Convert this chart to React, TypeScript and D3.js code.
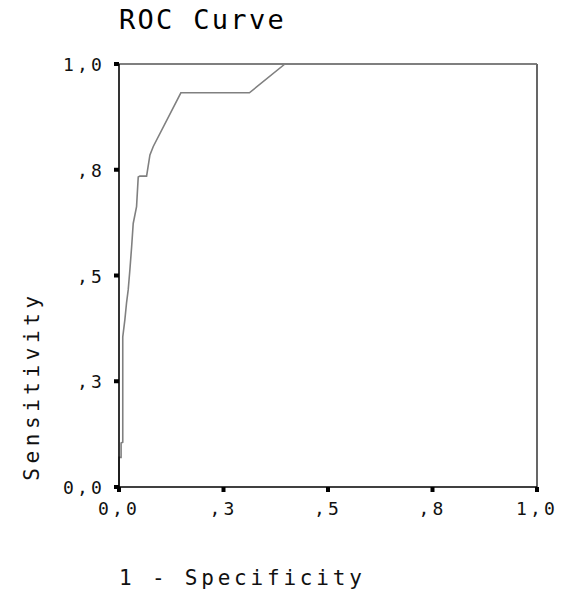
import React from "react";
import * as d3 from "d3";

// ROC points (1 - specificity, sensitivity)
const fpr = [0, 0, 0.005, 0.005, 0.009, 0.009, 0.014, 0.018, 0.022, 0.026, 0.030, 0.034, 0.042, 0.046, 0.05, 0.066, 0.074, 0.082, 0.148, 0.312, 0.397, 1.0];
const tpr = [0, 0.07, 0.07, 0.104, 0.106, 0.355, 0.395, 0.435, 0.466, 0.513, 0.565, 0.623, 0.663, 0.733, 0.735, 0.735, 0.785, 0.805, 0.932, 0.932, 1.0, 1.0];

const tickValues = [0, 0.25, 0.5, 0.75, 1];
const tickLabels = ["0,0", ",3", ",5", ",8", "1,0"];

const W = 565;
const H = 595;
const margin = { top: 64, right: 28, bottom: 108, left: 119 };

const App: React.FC = () => {
  const innerW = W - margin.left - margin.right;
  const innerH = H - margin.top - margin.bottom;

  const x = d3.scaleLinear().domain([0, 1]).range([0, innerW]);
  const y = d3.scaleLinear().domain([0, 1]).range([innerH, 0]);

  const pts: [number, number][] = fpr.map((f, i) => [f, tpr[i]]);
  const line = d3
    .line<[number, number]>()
    .x(d => x(d[0]))
    .y(d => y(d[1]));

  const font = "'DejaVu Sans Mono', 'Liberation Mono', monospace";

  return (
    <svg
      width={W}
      height={H}
      style={{ position: "fixed", left: 0, top: 0, background: "#fff" }}
      fontFamily={font}
    >
      <rect width={W} height={H} fill="#fff" />
      <text x={119} y={29} fontSize={27} letterSpacing={2.3} fill="#000">
        ROC Curve
      </text>

      <g transform={`translate(${margin.left},${margin.top})`}>
        {/* frame */}
        <line x1={0} x2={innerW} y1={0} y2={0} stroke="#000" strokeWidth={1.2} />
        <line x1={innerW} x2={innerW} y1={0} y2={innerH} stroke="#000" strokeWidth={1.2} />

        {/* curve */}
        <path d={line(pts) || ""} fill="none" stroke="#808080" strokeWidth={1.6} />

        {/* axes */}
        <line x1={0} x2={0} y1={0} y2={innerH} stroke="#000" strokeWidth={1.6} />
        <line x1={0} x2={innerW} y1={innerH} y2={innerH} stroke="#000" strokeWidth={1.6} />

        {tickValues.map((v, i) => (
          <g key={"y" + i}>
            <line x1={-5} x2={0} y1={y(v)} y2={y(v)} stroke="#000" strokeWidth={4} />
            <text
              x={-14}
              y={y(v) + 7}
              textAnchor="end"
              fontSize={18}
              letterSpacing={3.2}
              fill="#111"
            >
              {tickLabels[i]}
            </text>
          </g>
        ))}
        {tickValues.map((v, i) => (
          <g key={"x" + i}>
            <line x1={x(v)} x2={x(v)} y1={innerH} y2={innerH + 5} stroke="#000" strokeWidth={4} />
            <text
              x={x(v)}
              y={innerH + 28}
              textAnchor="middle"
              fontSize={18}
              letterSpacing={3.2}
              fill="#111"
            >
              {tickLabels[i]}
            </text>
          </g>
        ))}
      </g>

      <text x={119} y={585} fontSize={21} letterSpacing={3.8} fill="#111">
        1 - Specificity
      </text>
      <text
        transform="translate(39,386) rotate(-90)"
        textAnchor="middle"
        fontSize={21}
        letterSpacing={4.6}
        fill="#111"
      >
        Sensitivity
      </text>
    </svg>
  );
};

export default App;
